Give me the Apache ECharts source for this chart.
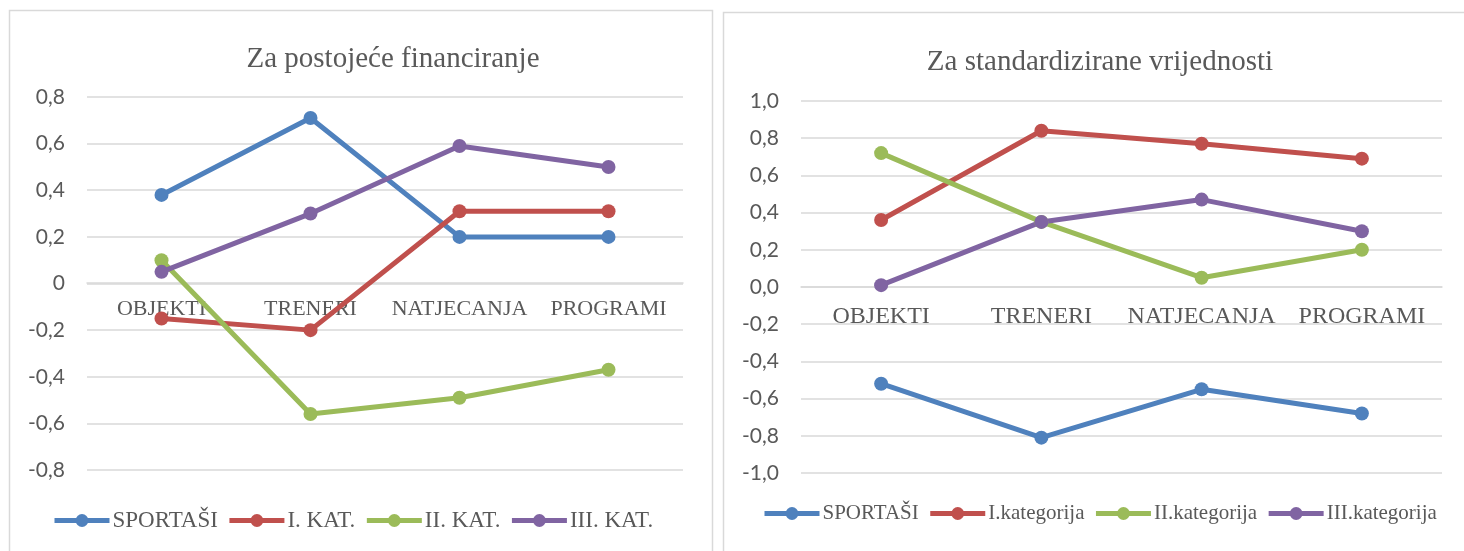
<!DOCTYPE html>
<html>
<head>
<meta charset="utf-8">
<script src="https://cdn.jsdelivr.net/npm/echarts@6/dist/echarts.min.js"></script>
<style>
  html, body { margin: 0; padding: 0; background: #fff; }
  #chart { width: 1464px; height: 551px; }
</style>
</head>
<body>
<div id="chart"></div>
<script>
// categories shared by both panels
const categories = ['OBJEKTI', 'TRENERI', 'NATJECANJA', 'PROGRAMI'];

// left panel: Za postojeće financiranje
const leftNames = ['SPORTAŠI', 'I. KAT.', 'II. KAT.', 'III. KAT.'];
const finSportasi = [0.38, 0.71, 0.20, 0.20];
const finKat1 = [-0.15, -0.20, 0.31, 0.31];
const finKat2 = [0.10, -0.56, -0.49, -0.37];
const finKat3 = [0.05, 0.30, 0.59, 0.50];

// right panel: Za standardizirane vrijednosti
const rightNames = ['SPORTAŠI', 'I.kategorija', 'II.kategorija', 'III.kategorija'];
const stdSportasi = [-0.52, -0.81, -0.55, -0.68];
const stdKat1 = [0.36, 0.84, 0.77, 0.69];
const stdKat2 = [0.72, 0.35, 0.05, 0.20];
const stdKat3 = [0.01, 0.35, 0.47, 0.30];

const colors = ['#4f81bd', '#c0504d', '#9bbb59', '#8064a2'];
const textColor = '#595959';
const gridColor = '#d9d9d9';
const serif = "'Liberation Serif', 'Times New Roman', serif";
const sans = "Lato, 'Liberation Sans', sans-serif";

const fmtLeft = (v) => (Math.abs(v) < 1e-9 ? '0' : v.toFixed(1).replace('.', ','));
const fmtRight = (v) => (Math.abs(v) < 1e-9 ? '0,0' : v.toFixed(1).replace('.', ','));

// category labels sit just under the zero line, like in Excel
const makeX = (gridIndex, offset, fontSize, margin) => ({
  type: 'category',
  gridIndex,
  data: categories,
  boundaryGap: true,
  position: 'bottom',
  offset,
  axisLine: { onZero: false, lineStyle: { color: gridColor, width: 1.5 } },
  axisTick: { show: false },
  axisLabel: { color: textColor, fontFamily: serif, fontSize, margin, interval: 0 }
});

const makeY = (gridIndex, min, max, fmt) => ({
  type: 'value',
  gridIndex,
  min,
  max,
  interval: 0.2,
  axisLine: { show: false },
  axisTick: { show: false },
  splitLine: { lineStyle: { color: gridColor, width: 1.5 } },
  axisLabel: { color: textColor, fontFamily: sans, fontSize: 21, margin: 22, formatter: fmt }
});

const makeSeries = (name, data, i, axisIndex) => ({
  name,
  type: 'line',
  xAxisIndex: axisIndex,
  yAxisIndex: axisIndex,
  data,
  symbol: 'circle',
  symbolSize: 14,
  color: colors[i],
  lineStyle: { width: 5, color: colors[i] },
  itemStyle: { color: colors[i] },
  animation: false
});

const makeLegend = (data, left, top, fontSize, gap) => ({
  data,
  left,
  top,
  padding: 0,
  itemWidth: 55,
  itemHeight: 16,
  itemGap: gap,
  lineStyle: { width: 5 },
  textStyle: { fontFamily: serif, fontSize, color: textColor, padding: [0, 0, 0, -2] }
});

const chart = echarts.init(document.getElementById('chart'));

chart.setOption({
  animation: false,
  title: [
    {
      text: 'Za postojeće financiranje',
      left: 388,
      top: 40,
      textAlign: 'center',
      textStyle: { fontFamily: serif, fontSize: 29, fontWeight: 'normal', color: textColor }
    },
    {
      text: 'Za standardizirane vrijednosti',
      left: 1095,
      top: 43,
      textAlign: 'center',
      textStyle: { fontFamily: serif, fontSize: 29, fontWeight: 'normal', color: textColor }
    }
  ],
  legend: [
    makeLegend(leftNames, 52, 509, 23, 9),
    makeLegend(rightNames, 762, 503, 21, 9)
  ],
  grid: [
    { left: 87, top: 97, width: 596, height: 373 },
    { left: 801, top: 101, width: 641, height: 372 }
  ],
  xAxis: [makeX(0, -187, 22, 15), makeX(1, -186, 24, 18)],
  yAxis: [makeY(0, -0.8, 0.8, fmtLeft), makeY(1, -1, 1, fmtRight)],
  series: [
    makeSeries(leftNames[0], finSportasi, 0, 0),
    makeSeries(leftNames[1], finKat1, 1, 0),
    makeSeries(leftNames[2], finKat2, 2, 0),
    makeSeries(leftNames[3], finKat3, 3, 0),
    makeSeries(rightNames[0], stdSportasi, 0, 1),
    makeSeries(rightNames[1], stdKat1, 1, 1),
    makeSeries(rightNames[2], stdKat2, 2, 1),
    makeSeries(rightNames[3], stdKat3, 3, 1)
  ],
  graphic: [
    {
      type: 'rect',
      silent: true,
      shape: { x: 9.5, y: 10.5, width: 703, height: 600 },
      style: { fill: 'none', stroke: gridColor, lineWidth: 1.5 }
    },
    {
      type: 'rect',
      silent: true,
      shape: { x: 723.5, y: 12.5, width: 800, height: 600 },
      style: { fill: 'none', stroke: gridColor, lineWidth: 1.5 }
    }
  ]
});
</script>
</body>
</html>
